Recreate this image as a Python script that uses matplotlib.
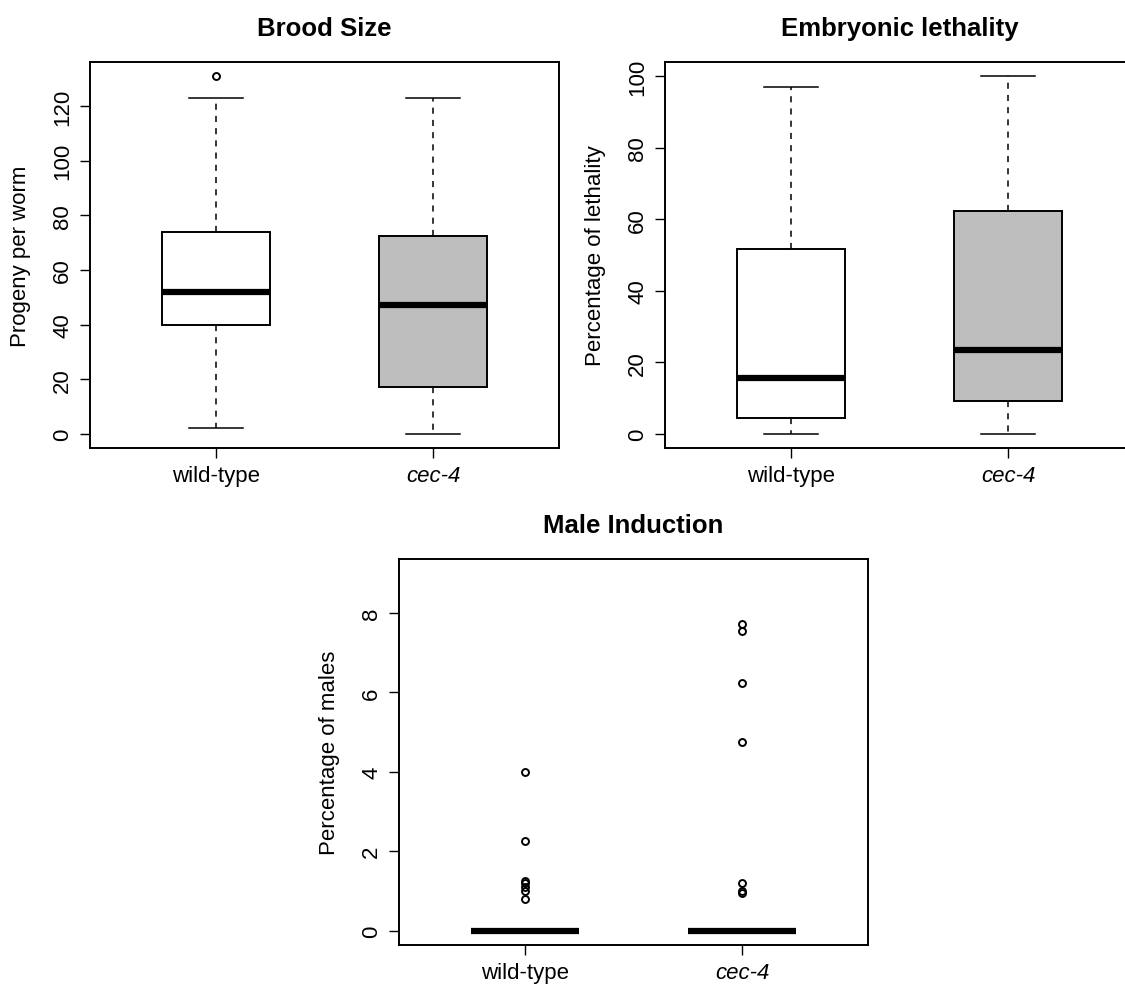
#!/usr/bin/env python

import matplotlib
matplotlib.use("Agg")
import matplotlib.pyplot as plt

fontsize = 16
tfontsize = 18.5
linewidth = 1.4

plt.rcParams["font.family"] = ["Liberation Sans", "DejaVu Sans"]
plt.rcParams["axes.linewidth"] = linewidth

groups = ["wild-type", "cec-4"]
box_colors = ["white", "#BEBEBE"]

# brood size (progeny per worm): whislo, q1, med, q3, whishi
brood_wt = [2, 40, 52, 74, 123]
brood_cec = [0, 17, 47, 72.5, 123]
brood_wt_out = [131]
brood_cec_out = []

# embryonic lethality (%)
leth_wt = [0, 4.4, 15.7, 51.7, 96.9]
leth_cec = [0, 9.1, 23.5, 62.3, 100]
leth_wt_out = []
leth_cec_out = []

# male induction (%), boxes collapse at zero
male_wt = [0, 0, 0, 0, 0]
male_cec = [0, 0, 0, 0, 0]
male_wt_out = [0.8, 1.0, 1.1, 1.2, 1.25, 2.27, 4.0]
male_cec_out = [0.95, 1.0, 1.2, 4.76, 6.25, 7.55, 7.72]


def make_stats(vals, outliers, label):
    lo, q1, med, q3, hi = vals
    return {"whislo": lo, "q1": q1, "med": med, "q3": q3,
            "whishi": hi, "fliers": outliers, "label": label}


def draw_panel(ax, stats, title, ylabel, ylim, yticks):
    bp = ax.bxp(stats, positions = [1, 2], widths = 0.5, capwidths = 0.25,
                patch_artist = True, showfliers = True,
                boxprops = {"linewidth": linewidth, "edgecolor": "black"},
                medianprops = {"linewidth": 4.5, "color": "black"},
                whiskerprops = {"linewidth": 1.1, "linestyle": (0, (4, 4)),
                                "color": "black"},
                capprops = {"linewidth": 1.1, "color": "black"},
                flierprops = {"marker": "o", "markersize": 5,
                              "markerfacecolor": "none",
                              "markeredgecolor": "black",
                              "markeredgewidth": 1.4})
    for patch, c in zip(bp["boxes"], box_colors):
        patch.set_facecolor(c)

    # R style: 4% padding around data range
    span = ylim[1] - ylim[0]
    ax.set_ylim(ylim[0] - 0.04 * span, ylim[1] + 0.04 * span)
    ax.set_xlim(0.42, 2.58)
    ax.set_yticks(yticks)
    ax.set_yticklabels([str(t) for t in yticks], rotation = 90, va = "center")
    ax.set_xticks([1, 2])
    ax.set_xticklabels(groups)
    ax.get_xticklabels()[1].set_style("italic")

    ax.tick_params(labelsize = fontsize, length = 7, width = 1.0,
                   direction = "out")
    ax.tick_params(axis = "y", pad = 5)
    ax.tick_params(axis = "x", pad = 5)
    ax.set_ylabel(ylabel, fontsize = fontsize)
    ax.yaxis.set_label_coords(-59 / 469, 0.5)
    ax.set_title(title, fontsize = tfontsize, fontweight = "bold", pad = 19.5)


def main():

    W, H = 1125, 987
    fig = plt.figure(figsize = (W / 100, H / 100), dpi = 100)

    aw = 469 / W
    ah = 386 / H
    ax1 = fig.add_axes([90 / W, (H - 449) / H, aw, ah])
    ax2 = fig.add_axes([665 / W, (H - 449) / H, aw, ah])
    ax3 = fig.add_axes([399 / W, (H - 946) / H, aw, ah])

    draw_panel(ax1,
               [make_stats(brood_wt, brood_wt_out, groups[0]),
                make_stats(brood_cec, brood_cec_out, groups[1])],
               "Brood Size", "Progeny per worm",
               (0, 131), [0, 20, 40, 60, 80, 100, 120])

    draw_panel(ax2,
               [make_stats(leth_wt, leth_wt_out, groups[0]),
                make_stats(leth_cec, leth_cec_out, groups[1])],
               "Embryonic lethality", "Percentage of lethality",
               (0, 100), [0, 20, 40, 60, 80, 100])

    draw_panel(ax3,
               [make_stats(male_wt, male_wt_out, groups[0]),
                make_stats(male_cec, male_cec_out, groups[1])],
               "Male Induction", "Percentage of males",
               (0, 9), [0, 2, 4, 6, 8])

    fig.savefig("out.png", dpi = 100)


if __name__ == "__main__":
    main()
